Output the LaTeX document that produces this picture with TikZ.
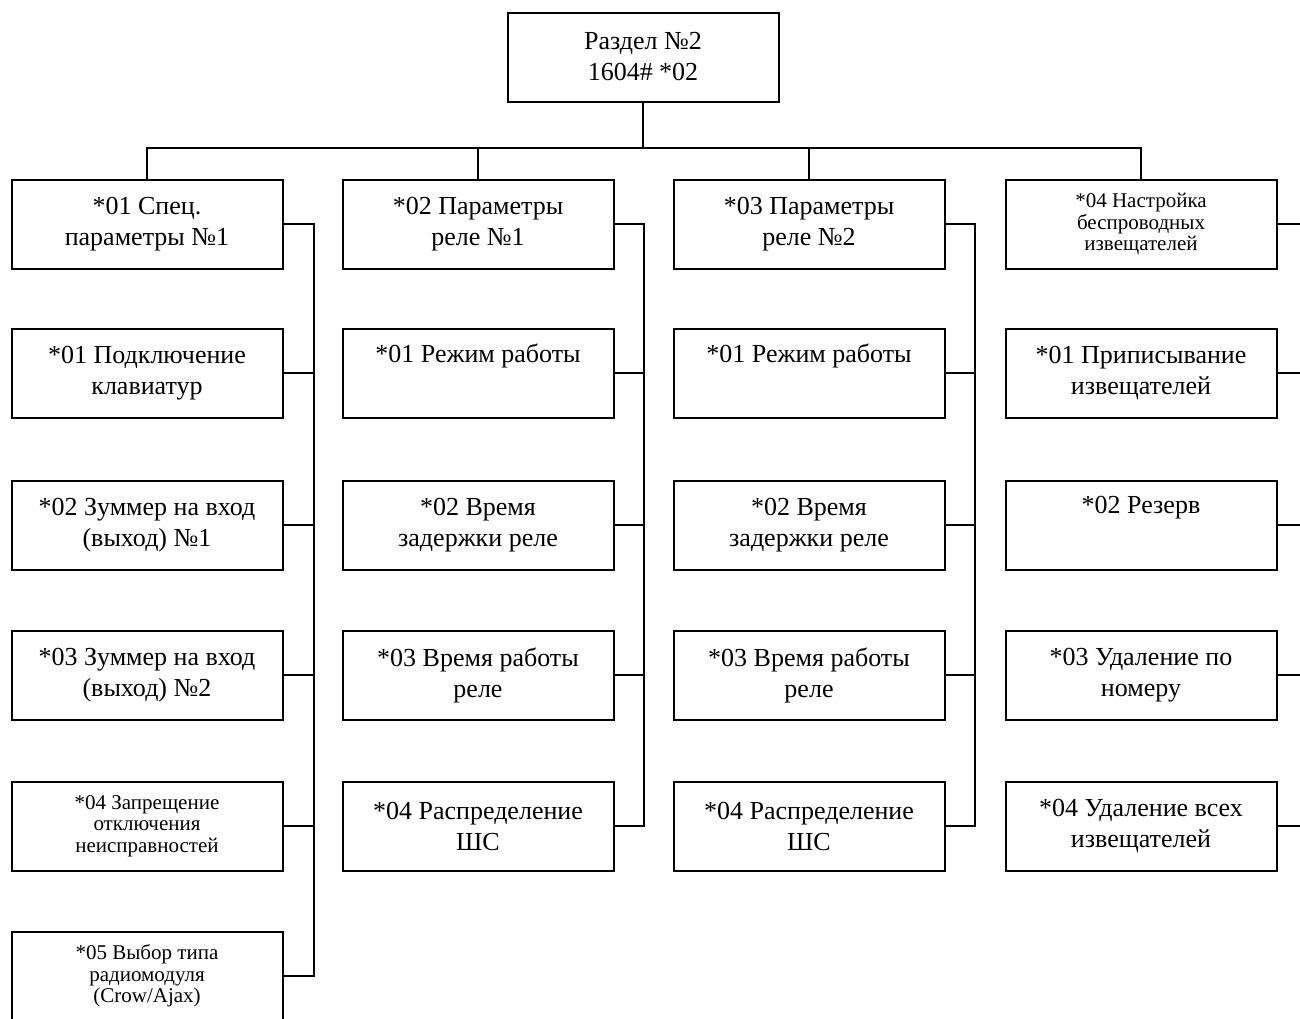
\documentclass[tikz,border=0pt]{standalone}
\usepackage{fontspec}
\setmainfont{Liberation Serif}
\begin{document}
\begin{tikzpicture}[x=1pt,y=-1pt,
  box/.style={draw,line width=2pt,minimum width=271pt,minimum height=89pt,
    inner sep=0pt,align=center,font=\fontsize{26}{31}\selectfont},
  sbox/.style={box,font=\fontsize{21}{21.5}\selectfont},
  conn/.style={line width=1.5pt}]
\useasboundingbox (0,0) rectangle (1300,1018);
\clip (0,0) rectangle (1300,1018);
% top
\node[box] (top) at (643,57) {Раздел №2\\1604\# *02};
% column 1
\node[box] (a0) at (147,224) {*01 Спец.\\параметры №1};
\node[box] (a1) at (147,373) {*01 Подключение\\клавиатур};
\node[box] (a2) at (147,525) {*02 Зуммер на вход\\(выход) №1};
\node[box] (a3) at (147,675) {*03 Зуммер на вход\\(выход) №2};
\node[sbox] (a4) at (147,826) {*04 Запрещение\\отключения\\неисправностей};
\node[sbox] (a5) at (147,976) {*05 Выбор типа\\радиомодуля\\(Crow/Ajax)};
% column 2
\node[box] (b0) at (478,224) {*02 Параметры\\реле №1};
\node[box] (b1) at (478,373) {*01 Режим работы\\\strut};
\node[box] (b2) at (478,525) {*02 Время\\задержки реле};
\node[box] (b3) at (478,675) {*03 Время работы\\реле};
\node[box] (b4) at (478,826) {*04 Распределение\\ШС};
% column 3
\node[box] (c0) at (809,224) {*03 Параметры\\реле №2};
\node[box] (c1) at (809,373) {*01 Режим работы\\\strut};
\node[box] (c2) at (809,525) {*02 Время\\задержки реле};
\node[box] (c3) at (809,675) {*03 Время работы\\реле};
\node[box] (c4) at (809,826) {*04 Распределение\\ШС};
% column 4
\node[sbox] (d0) at (1141,224) {*04 Настройка\\беспроводных\\извещателей};
\node[box] (d1) at (1141,373) {*01 Приписывание\\извещателей};
\node[box] (d2) at (1141,525) {*02 Резерв\\\strut};
\node[box] (d3) at (1141,675) {*03 Удаление по\\номеру};
\node[box] (d4) at (1141,826) {*04 Удаление всех\\извещателей};
% bus coordinates
\coordinate (hb) at (643,148);
\coordinate (va) at (314,0);
\coordinate (vb) at (644,0);
\coordinate (vc) at (975,0);
\coordinate (vd) at (1308,0);
% top connectors
\draw[conn] (top.south) -- (top.south |- hb);
\draw[conn] (a0.north) |- (hb) -| (d0.north);
\draw[conn] (b0.north) -- (b0.north |- hb);
\draw[conn] (c0.north) -- (c0.north |- hb);
% column 1 bus
\draw[conn] (a0.east) -- (a0.east -| va) -- (a5.east -| va) -- (a5.east);
\foreach \n in {a1,a2,a3,a4} \draw[conn] (\n.east) -- (\n.east -| va);
% column 2 bus
\draw[conn] (b0.east) -- (b0.east -| vb) -- (b4.east -| vb) -- (b4.east);
\foreach \n in {b1,b2,b3} \draw[conn] (\n.east) -- (\n.east -| vb);
% column 3 bus
\draw[conn] (c0.east) -- (c0.east -| vc) -- (c4.east -| vc) -- (c4.east);
\foreach \n in {c1,c2,c3} \draw[conn] (\n.east) -- (\n.east -| vc);
% column 4 bus
\draw[conn] (d0.east) -- (d0.east -| vd) -- (d4.east -| vd) -- (d4.east);
\foreach \n in {d1,d2,d3} \draw[conn] (\n.east) -- (\n.east -| vd);
\end{tikzpicture}
\end{document}
